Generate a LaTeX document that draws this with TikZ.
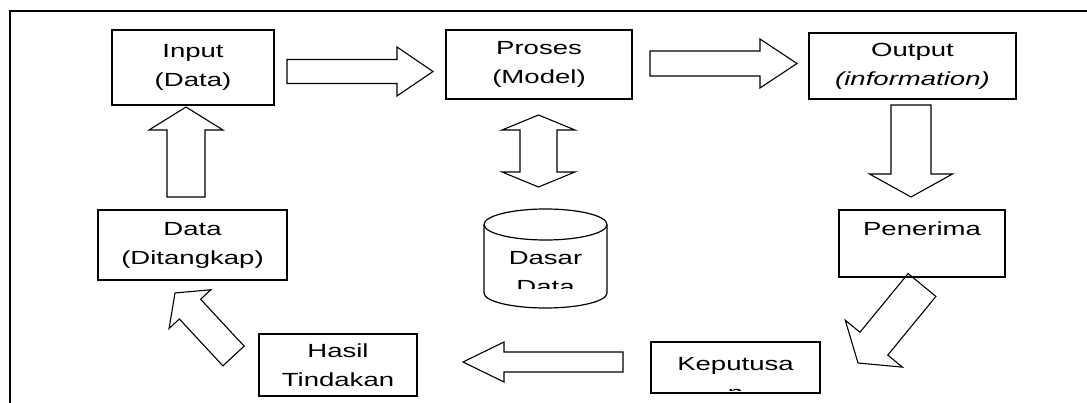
\documentclass[tikz,border=0pt]{standalone}
\usepackage{fontspec}
\setmainfont{Liberation Sans}[FakeStretch=1.45]
\usetikzlibrary{calc}

\tikzset{
  box/.style={draw, line width=1.5pt, align=center, inner sep=0pt,
              font=\fontsize{19}{29}\selectfont},
  lbl/.style={align=center, inner sep=0pt, font=\fontsize{19}{29}\selectfont},
  barrow/.style={draw, line width=1.1pt, line join=miter},
  frameline/.style={line width=1.6pt},
}

% block arrow: from, to, shaft half-width, head half-width, head length
\newcommand\blockarrow[5]{%
  \coordinate (bahead) at ($(#2)!#5!(#1)$);
  \draw[barrow] ($(#1)!#3!90:(#2)$) -- ($(bahead)!#3!-90:(#1)$)
    -- ($(bahead)!#4!-90:(#1)$) -- (#2) -- ($(bahead)!#4!90:(#1)$)
    -- ($(bahead)!#3!90:(#1)$) -- ($(#1)!#3!-90:(#2)$) -- cycle;}

% double-headed block arrow: end, end, shaft half-width, head half-width, head length
\newcommand\dblockarrow[5]{%
  \coordinate (bhA) at ($(#1)!#5!(#2)$);
  \coordinate (bhB) at ($(#2)!#5!(#1)$);
  \draw[barrow] (#1) -- ($(bhA)!#4!90:(#2)$) -- ($(bhA)!#3!90:(#2)$)
    -- ($(bhB)!#3!-90:(#1)$) -- ($(bhB)!#4!-90:(#1)$) -- (#2)
    -- ($(bhB)!#4!90:(#1)$) -- ($(bhB)!#3!90:(#1)$)
    -- ($(bhA)!#3!-90:(#2)$) -- ($(bhA)!#4!-90:(#2)$) -- cycle;}

\begin{document}
\begin{tikzpicture}[x=1pt, y=-1pt]
  \useasboundingbox (0,0) rectangle (1087,403);

  % outer frame (top and left edges)
  \draw[frameline] (1087,11) -- (10,11) -- (10,403);

  % process boxes
  \node[box, minimum width=162pt, minimum height=75pt] (inp) at (193,67.5) {Input\\(Data)};
  \node[box, minimum width=186pt, minimum height=69pt] (pro) at (539,64.5) {Proses\\(Model)};
  \node[box, minimum width=207pt, minimum height=66pt] (out) at (912.5,66) {Output\\\textit{(information)}};
  \node[box, minimum width=166pt, minimum height=67pt] (pen) at (922,243.5) {Penerima\\\mbox{}};
  \node[box, minimum width=169pt, minimum height=51pt] (kep) at (735.5,367.5) {};
  \node[box, minimum width=158pt, minimum height=62pt] (has) at (338,365) {Hasil\\Tindakan};
  \node[box, minimum width=189pt, minimum height=70pt] (dit) at (192.5,245) {Data\\(Ditangkap)};

  % text of the decision box, cut off by its lower edge
  \begin{scope}
    \clip (651,342) rectangle (820,390);
    \node[lbl] (keptext) at (735.5,378.5) {Keputusa\\n};
  \end{scope}

  % database cylinder
  \draw[line width=1.2pt] (484,225) -- (484,293)
     arc[start angle=180, end angle=0, x radius=61.5, y radius=15] -- (607,225);
  \draw[line width=1.2pt] (545.5,224.5) ellipse [x radius=61.5, y radius=15.5];
  \coordinate (db) at (545.5,209);
  \begin{scope}
    \clip (484,241) rectangle (607,289);
    \node[lbl] (dbtext) at (545.5,273) {Dasar\\Data};
  \end{scope}

  % connector end points
  \coordinate (a1s) at (287,71.5);   \coordinate (a1e) at (433,71.5);
  \coordinate (a2s) at (650,63.5);   \coordinate (a2e) at (797,63.5);
  \coordinate (a3s) at (911,105);    \coordinate (a3e) at (911,197);
  \coordinate (a4s) at (922,285);    \coordinate (a4e) at (858,363);
  \coordinate (a5s) at (623,362);    \coordinate (a5e) at (463,362);
  \coordinate (a6s) at (233.5,356);  \coordinate (a6e) at (175,293);
  \coordinate (a7s) at (186,197);    \coordinate (a7e) at (186,107);
  \coordinate (d1) at (538.5,115);   \coordinate (d2) at (538.5,187);

  % block arrows of the cycle
  \blockarrow{a1s}{a1e}{12pt}{24.5pt}{36pt}
  \blockarrow{a2s}{a2e}{12.5pt}{24.5pt}{37pt}
  \blockarrow{a3s}{a3e}{20pt}{41.5pt}{23pt}
  \blockarrow{a4s}{a4e}{18pt}{37pt}{25pt}
  \blockarrow{a5s}{a5e}{10pt}{20pt}{41pt}
  \blockarrow{a6s}{a6e}{14.5pt}{28.5pt}{22pt}
  \blockarrow{a7s}{a7e}{19pt}{37pt}{23pt}
  \dblockarrow{d1}{d2}{18.5pt}{36.5pt}{15pt}
\end{tikzpicture}
\end{document}
